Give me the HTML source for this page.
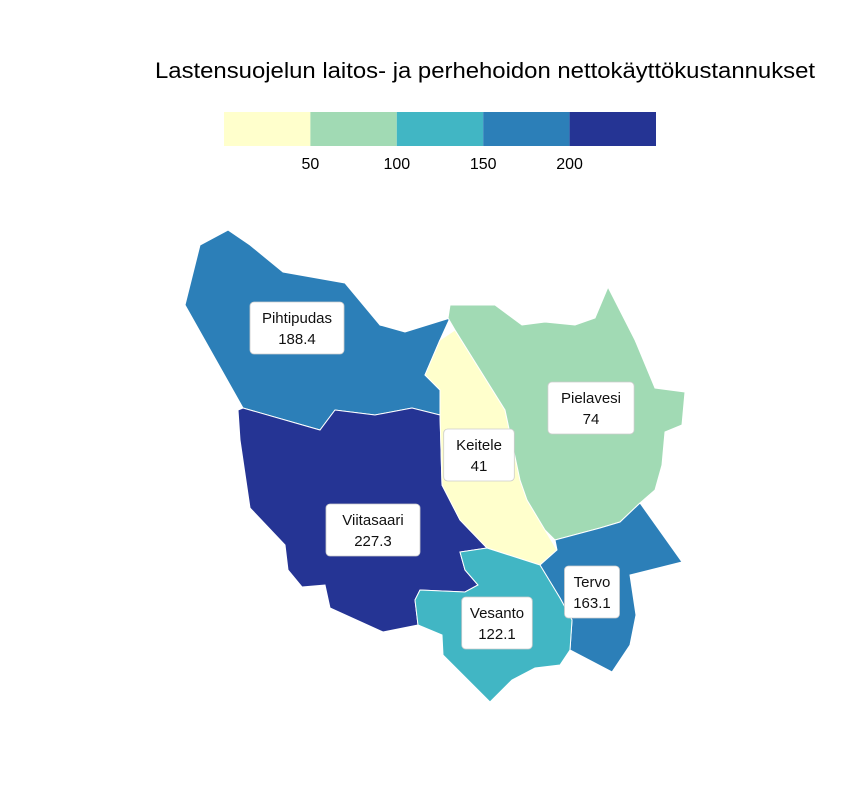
<!DOCTYPE html>
<html><head><meta charset="utf-8">
<style>
body{margin:0;background:#fff;}
svg{display:block;font-family:"Liberation Sans",sans-serif;}
</style></head>
<body>
<svg id="chart" width="864" height="792">
<text x="485" y="78" text-anchor="middle" font-size="22" textLength="660" lengthAdjust="spacingAndGlyphs" fill="#000">Lastensuojelun laitos- ja perhehoidon nettokäyttökustannukset</text>
<g id="legend"></g>
<g id="map"></g>
<g id="labels"></g>
</svg>
<script>
const names = ["Pihtipudas","Viitasaari","Keitele","Pielavesi","Tervo","Vesanto"];
const values = [188.4, 227.3, 41, 74, 163.1, 122.1];
const breaks = [50, 100, 150, 200];
const colors = ["#ffffcc","#a1dab4","#41b6c4","#2c7fb8","#253494"];
const labelPos = [[297,328],[373,530],[479,455],[591,408],[592,592],[497,623]];
const shapes = [
 [[200,245],[228,230],[250,245],[283,272],[345,283],[380,325],[405,332],[450,318],[440,340],[425,375],[440,390],[440,415],[412,408],[375,415],[335,410],[320,430],[243,408],[185,305]],
 [[243,408],[320,430],[335,410],[375,415],[412,408],[440,415],[442,485],[460,520],[487,548],[460,552],[465,570],[478,585],[465,592],[420,590],[415,600],[418,625],[383,632],[330,608],[325,585],[302,587],[288,570],[285,545],[250,508],[240,440],[238,410]],
 [[455,330],[480,370],[505,410],[520,480],[527,500],[545,530],[557,550],[540,565],[487,548],[460,520],[442,485],[440,415],[440,390],[425,375],[440,340]],
 [[450,305],[495,305],[522,325],[545,322],[575,325],[595,318],[608,287],[635,340],[655,388],[685,392],[682,425],[665,432],[662,465],[655,490],[640,503],[620,522],[600,528],[555,540],[545,530],[527,500],[520,480],[505,410],[480,370],[455,330],[448,318]],
 [[557,550],[555,540],[600,528],[620,522],[640,503],[682,562],[630,575],[636,615],[630,645],[612,672],[570,650],[572,620],[560,598],[540,565]],
 [[487,548],[540,565],[560,598],[572,620],[570,650],[560,665],[535,668],[512,680],[490,702],[443,655],[442,635],[418,625],[415,600],[420,590],[465,592],[478,585],[465,570],[460,552]]
];
const NS="http://www.w3.org/2000/svg";
function colorFor(v){let i=0;while(i<breaks.length&&v>=breaks[i])i++;return colors[i];}
const legX0=224, legW=432, legY=112, legH=34;
function legX(i){return legX0+i*legW/colors.length;}
const lg=document.getElementById('legend');
colors.forEach((c,i)=>{const r=document.createElementNS(NS,'rect');
r.setAttribute('x',legX(i));r.setAttribute('y',legY);r.setAttribute('width',legW/colors.length);r.setAttribute('height',legH);r.setAttribute('fill',c);


lg.appendChild(r);});
breaks.forEach((b,i)=>{const t=document.createElementNS(NS,'text');
t.setAttribute('x',legX(i+1));t.setAttribute('y',169);t.setAttribute('text-anchor','middle');t.setAttribute('font-size','16');t.textContent=b;


lg.appendChild(t);});
const mg=document.getElementById('map'), lb=document.getElementById('labels');
names.forEach((n,i)=>{const p=document.createElementNS(NS,'polygon');
p.setAttribute('points',shapes[i].map(q=>q.join(',')).join(' '));
p.setAttribute('fill',colorFor(values[i]));p.setAttribute('stroke','#fff');p.setAttribute('stroke-width','1');


mg.appendChild(p);
const [cx,cy]=labelPos[i];
const w=Math.max(n.length,String(values[i]).length)*7.8+16;
const g=document.createElementNS(NS,'g');


const r=document.createElementNS(NS,'rect');
r.setAttribute('x',cx-w/2);r.setAttribute('y',cy-26);r.setAttribute('width',w);r.setAttribute('height',52);r.setAttribute('rx',4);
r.setAttribute('fill','#fff');r.setAttribute('stroke','#ccc');r.setAttribute('stroke-width','0.8');
g.appendChild(r);
[n,String(values[i])].forEach((s,k)=>{const t=document.createElementNS(NS,'text');
t.setAttribute('x',cx);t.setAttribute('y',cy-5+k*21);t.setAttribute('text-anchor','middle');t.setAttribute('font-size','15');t.setAttribute('fill','#111');t.textContent=s;g.appendChild(t);});
lb.appendChild(g);});
</script>
</body></html>
